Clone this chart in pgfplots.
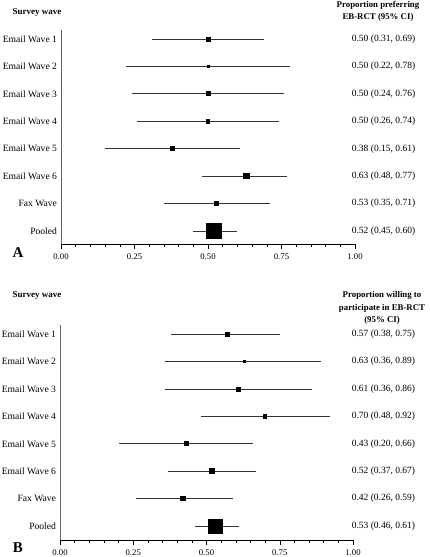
\documentclass[border=0pt]{standalone}
\usepackage{fontspec}
\setmainfont{Liberation Serif}
\usepackage{pgfplots}
\pgfplotsset{compat=1.18}
\pgfplotsset{
  forest/.style={
    scale only axis,
    xmin=0, xmax=1,
    axis x line=bottom,
    axis y line=left,
    axis line style={-},
    x axis line style={black, line width=0.6pt},
    y axis line style={black!60, line width=0.8pt},
    xtick={0,0.25,0.5,0.75,1},
    xticklabels={0.00,0.25,0.50,0.75,1.00},
    minor x tick num=4,
    tick align=outside,
    major tick length=4.5pt,
    minor tick length=2.5pt,
    x tick style={black, line width=0.5pt},
    ytick={1,...,8},
    yticklabels={Pooled,Fax Wave,Email Wave 6,Email Wave 5,Email Wave 4,Email Wave 3,Email Wave 2,Email Wave 1},
    y tick style={draw=none},
    xticklabel style={font=\fontsize{8.7}{10}\selectfont, yshift=-1.5pt},
    yticklabel style={font=\fontsize{9.6}{10}\selectfont, xshift=4pt},
    clip=false,
  },
  ci/.style={black!80, line width=0.8pt, mark=square*, mark options={black,solid},
    error bars/x dir=both, error bars/x explicit, error bars/error mark=none,
    error bars/error bar style={black!80, line width=0.8pt}},
}
\begin{document}
\begin{tikzpicture}
\useasboundingbox (0pt,0pt) rectangle (430pt,-557pt);
% Panel A
\begin{axis}[forest, at={(61pt,-244pt)}, anchor=south west, width=294pt, height=214pt, ymin=0.525, ymax=8.33]
\addplot[ci, mark size=2pt] coordinates {(0.50,8) -= (0.19,0) += (0.19,0)};
\addplot[ci, mark size=1pt] coordinates {(0.50,7) -= (0.28,0) += (0.28,0)};
\addplot[ci, mark size=2pt] coordinates {(0.50,6) -= (0.26,0) += (0.26,0)};
\addplot[ci, mark size=1.8pt] coordinates {(0.50,5) -= (0.24,0) += (0.24,0)};
\addplot[ci, mark size=2pt] coordinates {(0.38,4) -= (0.23,0) += (0.23,0)};
\addplot[ci, mark size=2.7pt] coordinates {(0.63,3) -= (0.15,0) += (0.14,0)};
\addplot[ci, mark size=2pt] coordinates {(0.53,2) -= (0.18,0) += (0.18,0)};
\addplot[ci, mark size=7.3pt] coordinates {(0.52,1) -= (0.07,0) += (0.08,0)};
\foreach \yy/\txt in {8/{0.50 (0.31, 0.69)},7/{0.50 (0.22, 0.78)},6/{0.50 (0.24, 0.76)},5/{0.50 (0.26, 0.74)},4/{0.38 (0.15, 0.61)},3/{0.63 (0.48, 0.77)},2/{0.53 (0.35, 0.71)},1/{0.52 (0.45, 0.60)}}{
  \edef\tmp{\noexpand\node[font=\noexpand\fontsize{9.5}{10}\noexpand\selectfont] at (axis cs:1.097,\yy) {\txt};}\tmp
}
\end{axis}
\node[font=\fontsize{9}{10}\selectfont\bfseries] at (37pt,-12pt) {Survey wave};
\node[font=\fontsize{8.8}{12}\selectfont\bfseries, align=center] at (378pt,-11pt) {Proportion preferring\\EB-RCT (95\% CI)};
\node[font=\fontsize{15}{16}\selectfont\bfseries] at (18pt,-253pt) {A};
% Panel B
\begin{axis}[forest, at={(60pt,-540pt)}, anchor=south west, width=293pt, height=215pt, ymin=0.49, ymax=8.34]
\addplot[ci, mark size=2pt] coordinates {(0.57,8) -= (0.19,0) += (0.18,0)};
\addplot[ci, mark size=1pt] coordinates {(0.63,7) -= (0.27,0) += (0.26,0)};
\addplot[ci, mark size=2pt] coordinates {(0.61,6) -= (0.25,0) += (0.25,0)};
\addplot[ci, mark size=1.7pt] coordinates {(0.70,5) -= (0.22,0) += (0.22,0)};
\addplot[ci, mark size=2pt] coordinates {(0.43,4) -= (0.23,0) += (0.23,0)};
\addplot[ci, mark size=2.5pt] coordinates {(0.52,3) -= (0.15,0) += (0.15,0)};
\addplot[ci, mark size=2.2pt] coordinates {(0.42,2) -= (0.16,0) += (0.17,0)};
\addplot[ci, mark size=7pt] coordinates {(0.53,1) -= (0.07,0) += (0.08,0)};
\foreach \yy/\txt in {8/{0.57 (0.38, 0.75)},7/{0.63 (0.36, 0.89)},6/{0.61 (0.36, 0.86)},5/{0.70 (0.48, 0.92)},4/{0.43 (0.20, 0.66)},3/{0.52 (0.37, 0.67)},2/{0.42 (0.26, 0.59)},1/{0.53 (0.46, 0.61)}}{
  \edef\tmp{\noexpand\node[font=\noexpand\fontsize{9.5}{10}\noexpand\selectfont] at (axis cs:1.104,\yy) {\txt};}\tmp
}
\end{axis}
\node[font=\fontsize{9}{10}\selectfont\bfseries] at (37pt,-295pt) {Survey wave};
\node[font=\fontsize{8.8}{12.5}\selectfont\bfseries, align=center] at (382pt,-308pt) {Proportion willing to\\participate in EB-RCT\\(95\% CI)};
\node[font=\fontsize{15}{16}\selectfont\bfseries] at (18pt,-548pt) {B};
\end{tikzpicture}
\end{document}
